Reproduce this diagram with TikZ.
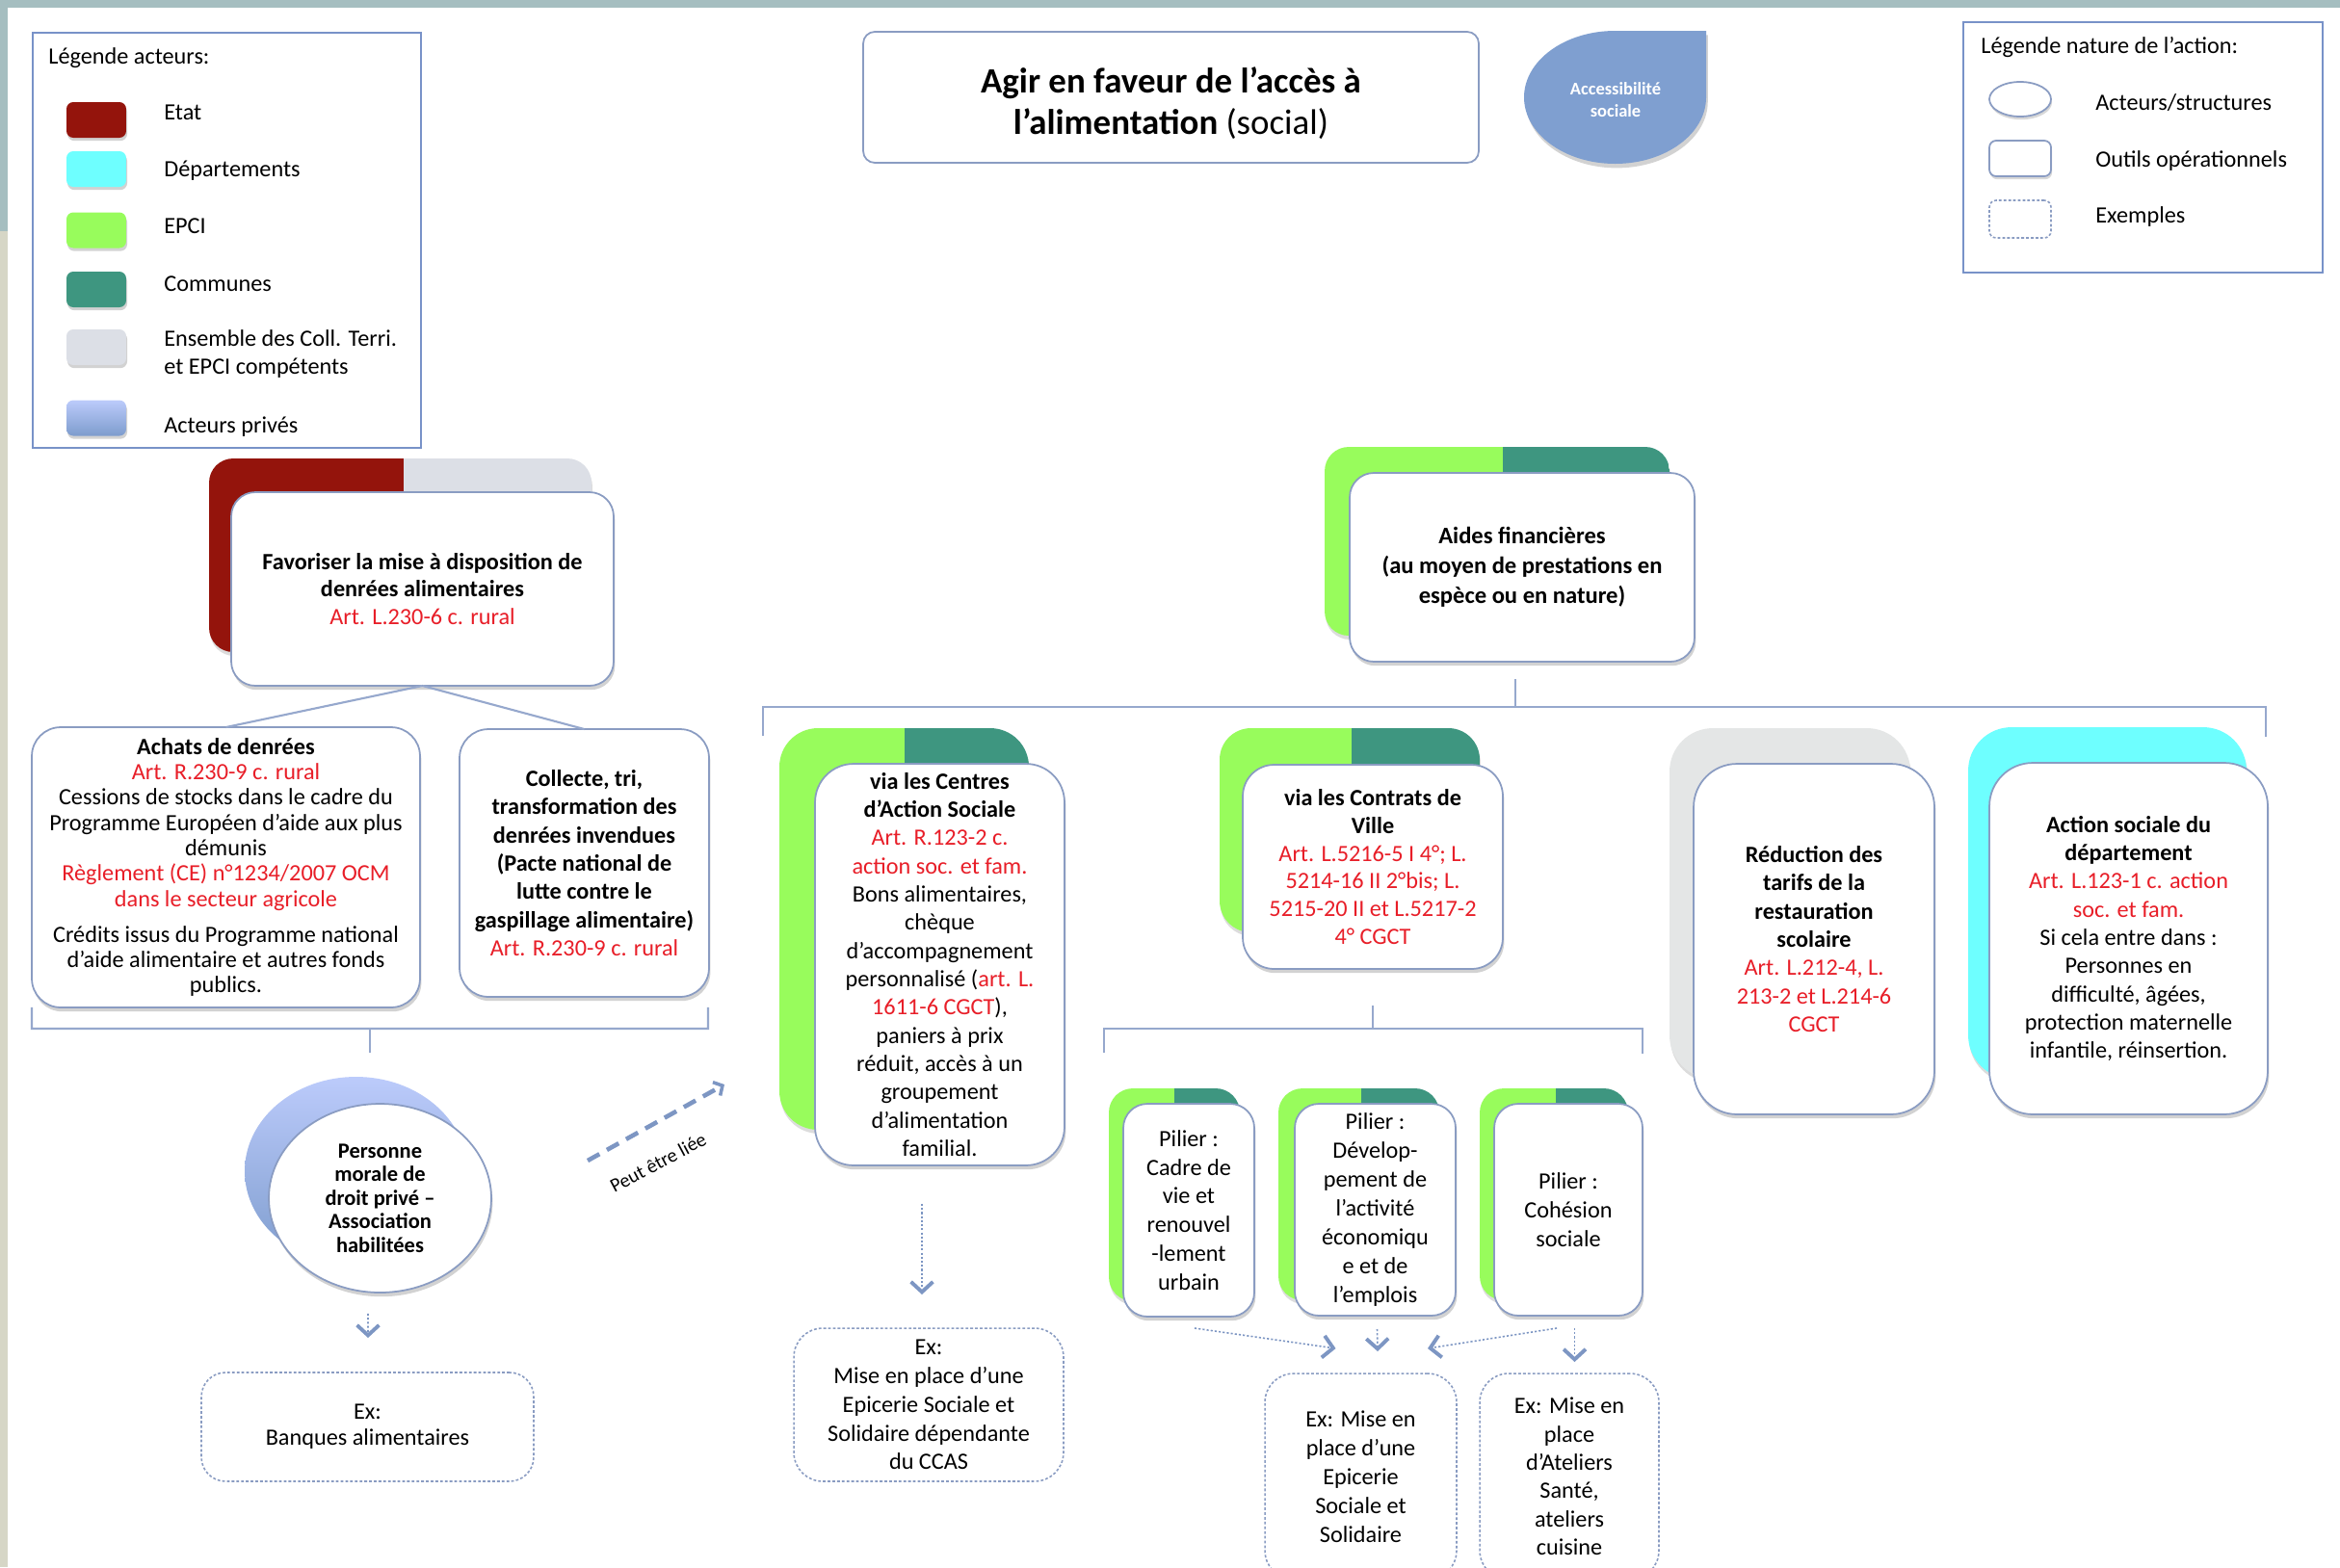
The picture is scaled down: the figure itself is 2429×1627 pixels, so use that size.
\documentclass[tikz,border=0pt]{standalone}
\usepackage{fontspec}
\setmainfont{Carlito}
\usetikzlibrary{shadows,calc,arrows.meta,shapes.geometric}
\definecolor{etat}{RGB}{148,20,12}
\definecolor{dept}{RGB}{110,255,255}
\definecolor{epci}{RGB}{152,252,92}
\definecolor{commune}{RGB}{62,150,128}
\definecolor{ensemble}{RGB}{220,223,230}
\definecolor{grisback}{RGB}{228,230,230}
\definecolor{privtop}{RGB}{188,203,251}
\definecolor{privbot}{RGB}{125,156,205}
\definecolor{bord}{RGB}{138,156,194}
\definecolor{legbord}{RGB}{120,146,200}
\definecolor{refred}{RGB}{232,30,40}
\definecolor{conn}{RGB}{150,168,205}
\definecolor{arrowc}{RGB}{125,150,195}
\definecolor{access}{RGB}{127,159,208}
\definecolor{bandtop}{RGB}{165,190,192}
\definecolor{bandleft}{RGB}{214,214,198}
\pgfdeclarelayer{bg}
\pgfsetlayers{bg,main}
\newcommand\fsz[2]{\fontsize{#1}{#2}\selectfont}
\newcommand\rf[1]{\textcolor{refred}{#1}}
\newcommand\backtab[7]{%
  \begin{pgfonlayer}{bg}
    \path ($(#1.north west)+(#2,#3)$) coordinate (btA)
          ($(#1.south east)+(#2,#3)$) coordinate (btB)
          ($(btA)!#6!(btB)$) coordinate (btS);
    \fill[black!45, opacity=0.3, rounded corners=#7] ($(btA)+(1,4)$) rectangle ($(btB)+(1,4)$);
    \begin{scope}
      \clip[rounded corners=#7] (btA) rectangle (btB);
      \fill[#4] (btA) rectangle (btS |- btB);
      \fill[#5] (btS |- btA) rectangle (btB);
    \end{scope}
  \end{pgfonlayer}}
\begin{document}
\begin{tikzpicture}[x=0.02cm,y=-0.02cm,
  front/.style={draw=bord, line width=1pt, fill=white, rounded corners=#1, inner sep=0pt, outer sep=0pt, align=center,
    drop shadow={shadow xshift=0.8pt,shadow yshift=-2.4pt,opacity=0.35}},
  front/.default=0.5cm,
  exbox/.style={draw=bord, line width=0.9pt, dash pattern=on 1.6pt off 1.2pt, rounded corners=#1, inner sep=0pt, outer sep=0pt, align=center, fill=white},
  exbox/.default=0.6cm,
  legbox/.style={draw=legbord, line width=1.2pt, inner sep=0pt},
  swatch/.style={rounded corners=4pt, minimum width=1.24cm, minimum height=0.74cm, inner sep=0pt,
    drop shadow={shadow xshift=0.6pt,shadow yshift=-1.8pt,opacity=0.35}},
  legtext/.style={anchor=west, font=\fsz{13.8}{16.4}, align=left, inner sep=0pt},
  conn/.style={draw=conn, line width=1.2pt},
  exarrow/.style={draw=arrowc, line width=0.9pt, dash pattern=on 1.2pt off 1.2pt,
    -{Straight Barb[length=6pt,width=13pt,line width=2.2pt]}},
  body/.style={font=\fsz{13.8}{#1}},
]
\path[use as bounding box] (0,0) rectangle (2429,1627);
\begin{pgfonlayer}{bg}
  \fill[white] (0,0) rectangle (2429,1627);
  \fill[bandtop] (0,0) rectangle (2429,8);
  \fill[bandleft] (0,240) rectangle (8,1627);
  \fill[bandtop] (0,0) rectangle (8,240);
\end{pgfonlayer}
\clip (0,0) rectangle (2429,1627);

% ---------- legend acteurs
\node[legbox, minimum width=8.06cm, minimum height=8.62cm] (legA) at (235.5,249.5) {};
\node[legtext] (legAt) at (50,60) {Légende acteurs:};
\node[swatch, fill=etat] (swE) at (100,124.5) {};
\node[legtext] (ltE) at (170,117) {Etat};
\node[swatch, fill=dept] (swD) at (100,175.5) {};
\node[legtext] (ltD) at (170,177) {Départements};
\node[swatch, fill=epci] (swP) at (100,239) {};
\node[legtext] (ltP) at (170,235) {EPCI};
\node[swatch, fill=commune] (swC) at (100,300.5) {};
\node[legtext] (ltC) at (170,295) {Communes};
\node[swatch, fill=ensemble] (swS) at (100,360.5) {};
\node[legtext] (ltS) at (170,367.5) {Ensemble des Coll. Terri.\\et EPCI compétents};
\node[swatch, top color=privtop, bottom color=privbot] (swV) at (100,434) {};
\node[legtext] (ltV) at (170,443) {Acteurs privés};

% ---------- title
\node[draw=bord, line width=1pt, rounded corners=0.24cm, fill=white, minimum width=12.78cm, minimum height=2.72cm,
  inner sep=0pt] (title) at (1215.5,101) {};
\node[align=center, font=\fsz{21}{24.5}, inner sep=0pt] (titletext) at (1215.5,107)
  {\textbf{Agir en faveur de l’accès à}\\\textbf{l’alimentation} (social)};

% ---------- accessibilite sociale
\fill[access, drop shadow={shadow xshift=1pt,shadow yshift=-2.5pt,opacity=0.35}]
  (1771,32) -- (1771,101) arc[start angle=0, end angle=270, x radius=94.5, y radius=69] -- cycle;
\node[text=white, font=\fsz{10.5}{13}, align=center] (acc) at (1677,104) {\textbf{Accessibilité}\\\textbf{sociale}};

% ---------- legend nature
\node[legbox, minimum width=7.46cm, minimum height=5.2cm] (legN) at (2224.5,153) {};
\node[legtext] (lnT) at (2056,49) {Légende nature de l’action:};
\node[ellipse, draw=bord, line width=1pt, fill=white, minimum width=1.28cm, minimum height=0.72cm, inner sep=0pt,
  drop shadow={shadow xshift=0.6pt,shadow yshift=-1.8pt,opacity=0.3}] (icE) at (2097,103) {};
\node[legtext] (lnE) at (2175,107) {Acteurs/structures};
\node[draw=bord, line width=1pt, fill=white, rounded corners=4pt, minimum width=1.28cm, minimum height=0.74cm, inner sep=0pt,
  drop shadow={shadow xshift=0.6pt,shadow yshift=-1.8pt,opacity=0.3}] (icR) at (2097,164.5) {};
\node[legtext] (lnR) at (2175,167) {Outils opérationnels};
\node[exbox=4pt, minimum width=1.28cm, minimum height=0.78cm] (icX) at (2097,227.5) {};
\node[legtext] (lnX) at (2175,225) {Exemples};

% ---------- Favoriser
\node[front, minimum width=7.94cm, minimum height=4.02cm, body=16.4] (fav) at (438.5,611.5)
  {\textbf{Favoriser la mise à disposition de}\\\textbf{denrées alimentaires}\\\rf{Art. L.230-6 c. rural}};
\backtab{fav}{-23}{-35}{etat}{ensemble}{0.51}{0.5cm}

\node[front=0.6cm, minimum width=8.06cm, minimum height=5.82cm, body=15] (achats) at (234.5,900.5)
  {\textbf{Achats de denrées}\\\rf{Art. R.230-9 c. rural}\\Cessions de stocks dans le cadre du\\Programme Européen d’aide aux plus\\démunis\\
   \rf{Règlement (CE) n°1234/2007 OCM}\\\rf{dans le secteur agricole}\\[6pt]Crédits issus du Programme national\\d’aide alimentaire et autres fonds\\publics.};
\node[front=0.6cm, minimum width=5.18cm, minimum height=5.56cm, body=16.7] (collecte) at (606.5,896)
  {\textbf{Collecte, tri,}\\\textbf{transformation des}\\\textbf{denrées invendues}\\\textbf{(Pacte national de}\\\textbf{lutte contre le}\\\textbf{gaspillage alimentaire)}\\\rf{Art. R.230-9 c. rural}};
\draw[conn] (fav.south) -- (achats.north);
\draw[conn] (fav.south) -- (collecte.north);
\draw[conn] (achats.south west) -- ++(0,22) -- ($(collecte.south east)+(-1,33)$) -- ($(collecte.south east)+(-1,11)$);
\coordinate (brA) at (384,1068);
\draw[conn] (brA) -- ++(0,25);

% ---------- Personne morale
\node[ellipse, draw=bord, line width=1pt, fill=white, minimum width=4.62cm, minimum height=3.92cm, inner sep=0pt, align=center,
  font=\fsz{12.8}{13.9}, drop shadow={shadow xshift=0.8pt,shadow yshift=-2.4pt,opacity=0.35}] (pm) at (394.5,1244)
  {\textbf{Personne}\\\textbf{morale de}\\\textbf{droit privé –}\\\textbf{Association}\\\textbf{habilitées}};
\begin{pgfonlayer}{bg}
  \shade[top color=privtop, bottom color=privbot] (369.5,1216) ellipse [x radius=115.5, y radius=98];
\end{pgfonlayer}
\node[exbox=0.5cm, minimum width=6.9cm, minimum height=2.26cm, body=15.3] (banques) at (381.5,1481.5) {Ex:\\Banques alimentaires};
\draw[exarrow] ($(pm.south)+(-12.5,21)$) -- ($(banques.north)+(0.5,-36)$);

% ---------- Peut etre liee
\coordinate (pelA) at (610,1205);
\coordinate (pelB) at (752,1126);
\draw[draw=arrowc, line width=2.6pt, dash pattern=on 8pt off 5pt, -{Straight Barb[length=4pt,width=9pt,line width=2pt]}] (pelA) -- (pelB);
\node[rotate=28, font=\fsz{11.5}{13}, inner sep=0pt] (pel) at (683,1207) {Peut être liée};

% ---------- Aides financieres
\node[front, minimum width=7.16cm, minimum height=3.92cm, font=\fsz{14}{17.6}] (aides) at (1580,589)
  {\textbf{Aides financières}\\\textbf{(au moyen de prestations en}\\\textbf{espèce ou en nature)}};
\backtab{aides}{-26}{-27}{epci}{commune}{0.517}{0.5cm}
\draw[conn] (792,764) -- (792,734) -- (2352,734) -- (2352,765);
\coordinate (brB) at (1573,734);
\draw[conn] (brB) -- ++(0,-29);

% ---------- Centres
\node[front=0.8cm, minimum width=5.18cm, minimum height=8.34cm, body=16.7] (centres) at (975.5,1001.5)
  {\textbf{via les Centres}\\\textbf{d’Action Sociale}\\\rf{Art. R.123-2 c.}\\\rf{action soc. et fam.}\\Bons alimentaires,\\chèque\\d’accompagnement\\
   personnalisé (\rf{art. L.}\\\rf{1611-6 CGCT}),\\paniers à prix\\réduit, accès à un\\groupement\\d’alimentation\\familial.};
\backtab{centres}{-37}{-37}{epci}{commune}{0.50}{0.8cm}
\node[exbox, minimum width=5.6cm, minimum height=3.18cm, body=17] (exccas) at (964,1458.5)
  {Ex:\\Mise en place d’une\\Epicerie Sociale et\\Solidaire dépendante\\du CCAS};
\draw[exarrow] ($(centres.south)+(-18.5,40)$) -- ($(exccas.north)+(-7,-35)$);

% ---------- Contrats de ville
\node[front=0.65cm, minimum width=5.4cm, minimum height=4.24cm, body=16.4] (contrats) at (1425,900)
  {\textbf{via les Contrats de}\\\textbf{Ville}\\\rf{Art. L.5216-5 I 4°; L.}\\\rf{5214-16 II 2°bis; L.}\\\rf{5215-20 II et L.5217-2}\\\rf{4° CGCT}};
\backtab{contrats}{-24}{-38}{epci}{commune}{0.507}{0.65cm}
\draw[conn] (1146,1093) -- (1146,1068) -- (1705,1068) -- (1705,1094);
\coordinate (brC) at (contrats.south |- brA);
\draw[conn] (brC) -- ++(0,-24);

% ---------- Piliers
\node[front, minimum width=2.72cm, minimum height=4.42cm, body=17] (p1) at (1234,1256.5)
  {Pilier :\\Cadre de\\vie et\\renouvel\\-lement\\urbain};
\backtab{p1}{-15}{-16}{epci}{commune}{0.5}{0.5cm}
\node[front, minimum width=3.34cm, minimum height=4.4cm, body=17] (p2) at (1427.5,1256)
  {Pilier :\\Dévelop-\\pement de\\l’activité\\économiqu\\e et de\\l’emplois};
\backtab{p2}{-17}{-16}{epci}{commune}{0.515}{0.5cm}
\node[front, minimum width=3.08cm, minimum height=4.4cm, body=17] (p3) at (1628,1256)
  {Pilier :\\Cohésion\\sociale};
\backtab{p3}{-15}{-16}{epci}{commune}{0.51}{0.5cm}

\node[exbox, minimum width=3.98cm, minimum height=4.28cm, body=17] (epic) at (1412.5,1533)
  {Ex: Mise en\\place d’une\\Epicerie\\Sociale et\\Solidaire};
\node[exbox, minimum width=3.72cm, minimum height=4.28cm, body=16.7] (atel) at (1629,1533)
  {Ex: Mise en\\place\\d’Ateliers\\Santé,\\ateliers\\cuisine};
\draw[exarrow] ($(p1.south)+(6,12)$) -- ($(epic.north)+(-26,-26)$);
\draw[exarrow] ($(p2.south)+(2,14)$) -- ($(epic.north)+(17.5,-23)$);
\draw[exarrow] ($(p3.south)+(-12,13)$) -- ($(epic.north)+(69.5,-26)$);
\draw[exarrow] ($(p3.south)+(6.5,13)$) -- ($(atel.north)+(5.5,-12)$);

% ---------- Reduction / Action sociale
\node[front=0.9cm, minimum width=5.0cm, minimum height=7.28cm, body=16.7] (reduc) at (1883,975)
  {\textbf{Réduction des}\\\textbf{tarifs de la}\\\textbf{restauration}\\\textbf{scolaire}\\\rf{Art. L.212-4, L.}\\\rf{213-2 et L.214-6}\\\rf{CGCT}};
\backtab{reduc}{-25}{-37}{grisback}{grisback}{0.5}{0.9cm}
\node[front=0.9cm, minimum width=5.78cm, minimum height=7.3cm, body=16.7] (action) at (2209.5,974.5)
  {\textbf{Action sociale du}\\\textbf{département}\\\rf{Art. L.123-1 c. action}\\\rf{soc. et fam.}\\Si cela entre dans :\\Personnes en\\difficulté, âgées,\\protection maternelle\\infantile, réinsertion.};
\backtab{action}{-22}{-37}{dept}{dept}{0.5}{0.9cm}
\end{tikzpicture}
\end{document}
